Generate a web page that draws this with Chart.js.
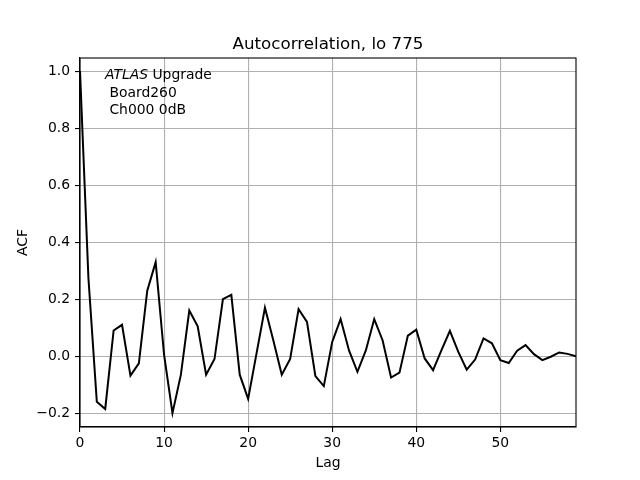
<!DOCTYPE html>
<html>
<head>
<meta charset="utf-8">
<script src="https://cdn.jsdelivr.net/npm/chart.js@4"></script>
<style>
body{margin:0;background:#fff;}
#wrap{width:640px;height:480px;}
</style>
</head>
<body>
<div id="wrap"><canvas id="chart" width="640" height="480"></canvas></div>
<script>
/* DATA */
const lags=[0,1,2,3,4,5,6,7,8,9,10,11,12,13,14,15,16,17,18,19,20,21,22,23,24,25,26,27,28,29,
  30,31,32,33,34,35,36,37,38,39,40,41,42,43,44,45,46,47,48,49,50,51,52,53,54,55,56,57,58,59];
const acf=[1.0,0.275,-0.16,-0.185,0.09,0.11,-0.068,-0.025,0.23,0.33,
  0.005,-0.2,-0.065,0.16,0.105,-0.065,-0.01,0.2,0.215,-0.065,
  -0.15,0.01,0.17,0.055,-0.065,-0.01,0.165,0.12,-0.07,-0.105,
  0.05,0.13,0.02,-0.055,0.02,0.13,0.055,-0.075,-0.058,0.072,
  0.093,-0.008,-0.049,0.021,0.089,0.015,-0.047,-0.012,0.062,0.045,
  -0.014,-0.024,0.019,0.039,0.007,-0.014,-0.002,0.013,0.008,0.0];
const xTicks=[0,10,20,30,40,50];
const yTicks=[-0.2,0,0.2,0.4,0.6,0.8,1.0];
const titleText="Autocorrelation, lo 775";
const noteLines=[" Board260"," Ch000 0dB"];

const FONT="'DejaVu Sans', sans-serif";

/* TEXT + FRAME */
const textPlugin={
  id:"texts",
  afterDraw(chart){
    const c=chart.ctx, a=chart.chartArea;
    c.save();
    c.strokeStyle="#000";c.lineWidth=1.1;
    c.strokeRect(a.left,a.top,a.right-a.left,a.bottom-a.top);
    c.fillStyle="#000";
    const cx=(a.left+a.right)/2;
    c.textAlign="center";c.textBaseline="alphabetic";
    c.font="16.7px "+FONT;
    c.fillText(titleText,cx,48.5);
    c.font="13.9px "+FONT;
    c.fillText("Lag",cx,467);
    c.save();
    c.translate(27,(a.top+a.bottom)/2);
    c.rotate(-Math.PI/2);
    c.fillText("ACF",0,0);
    c.restore();
    // note
    c.textAlign="left";
    c.font="italic 13.9px "+FONT;
    c.fillText("ATLAS",105,78.5);
    const w=c.measureText("ATLAS").width;
    c.font="13.9px "+FONT;
    c.fillText(" Upgrade",105+w,78.5);
    noteLines.forEach((t,i)=>c.fillText(t,105,96.5+i*17.2));
    c.restore();
  }
};

const fmt=v=>{const s=Number(v).toFixed(1);return s.replace("-","\u2212");};

new Chart(document.getElementById("chart"),{
  type:"line",
  data:{
    datasets:[{
      data:lags.map((l,i)=>({x:l,y:acf[i]})),
      borderColor:"#000",
      borderWidth:2,
      pointRadius:0,
      tension:0,
      fill:false
    }]
  },
  options:{
    responsive:false,
    animation:false,
    layout:{padding:{top:58,right:64,bottom:0,left:0}},
    plugins:{legend:{display:false},tooltip:{enabled:false}},
    scales:{
      x:{
        type:"linear",min:0,max:59,
        afterFit:s=>{s.height=53;},
        afterBuildTicks:s=>{s.ticks=xTicks.map(v=>({value:v}));},
        grid:{color:"#b0b0b0",lineWidth:1.1,tickColor:"#000",tickLength:5},
        border:{color:"#000",width:1.1},
        ticks:{color:"#000",font:{family:FONT,size:13.9},padding:3,maxRotation:0}
      },
      y:{
        type:"linear",min:-0.2485,max:1.046,
        afterFit:s=>{s.width=80;},
        afterBuildTicks:s=>{s.ticks=yTicks.map(v=>({value:v}));},
        grid:{color:"#b0b0b0",lineWidth:1.1,tickColor:"#000",tickLength:5},
        border:{color:"#000",width:1.1},
        ticks:{color:"#000",font:{family:FONT,size:13.9},padding:5,callback:fmt}
      }
    }
  },
  plugins:[textPlugin]
});
</script>
</body>
</html>
